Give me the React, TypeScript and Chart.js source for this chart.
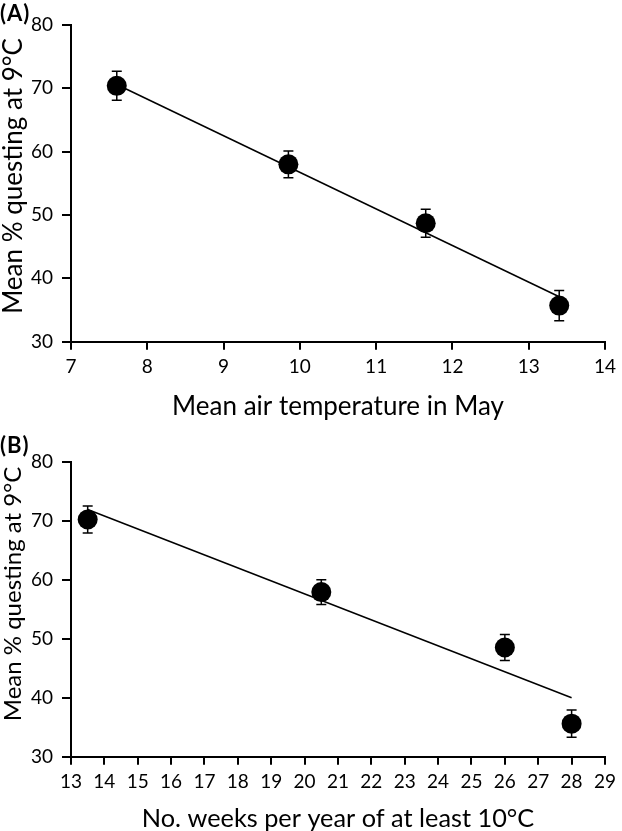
import React, { useEffect, useRef } from "react";
import { Chart, registerables } from "chart.js";

Chart.register(...registerables);

// Panel A: mean air temperature in May
const tempMay = [7.6, 9.85, 11.65, 13.4];
const questA = [70.4, 58.0, 48.7, 35.7];
const errA = [2.3, 2.1, 2.2, 2.4];
const fitAX = [7.6, 13.4];
const fitAY = [70.6, 37.1];

// Panel B: number of weeks per year >= 10 C
const weeks = [13.5, 20.5, 26, 28];
const questB = [70.2, 57.9, 48.5, 35.6];
const errB = [2.3, 2.1, 2.2, 2.3];
const fitBX = [13.5, 28];
const fitBY = [71.9, 40.0];

const yMin = 30;
const yMax = 80;
const yStep = 10;
const yTitleText = "Mean % questing at 9°C";

const FONT = "Lato, 'Open Sans', sans-serif";

const errorBarPlugin = {
  id: "errorBars",
  afterDatasetsDraw(chart: any, _args: any, opts: any) {
    const xs: number[] = opts.xs || [];
    const ys: number[] = opts.ys || [];
    const errs: number[] = opts.errs || [];
    const { ctx } = chart;
    const xScale = chart.scales.x;
    const yScale = chart.scales.y;
    ctx.save();
    ctx.strokeStyle = "#000";
    ctx.lineWidth = 1.5;
    for (let i = 0; i < xs.length; i++) {
      const px = xScale.getPixelForValue(xs[i]);
      const top = yScale.getPixelForValue(ys[i] + errs[i]);
      const bot = yScale.getPixelForValue(ys[i] - errs[i]);
      ctx.beginPath();
      ctx.moveTo(px, top);
      ctx.lineTo(px, bot);
      ctx.moveTo(px - 5, top);
      ctx.lineTo(px + 5, top);
      ctx.moveTo(px - 5, bot);
      ctx.lineTo(px + 5, bot);
      ctx.stroke();
    }
    ctx.restore();
  },
};

const yTitlePlugin = {
  id: "yTitle",
  afterDraw(chart: any, _args: any, opts: any) {
    const { ctx } = chart;
    ctx.save();
    ctx.translate(opts.x, opts.y);
    ctx.rotate(-Math.PI / 2);
    ctx.font = `${opts.size}px ${FONT}`;
    ctx.fillStyle = "#000";
    ctx.textAlign = "center";
    ctx.textBaseline = "middle";
    ctx.fillText(opts.text, 0, 0);
    ctx.restore();
  },
};

type PanelProps = {
  xs: number[];
  ys: number[];
  errs: number[];
  fitX: number[];
  fitY: number[];
  xMin: number;
  xMax: number;
  xTitle: string;
  xTitleSize: number;
  yTitleSize: number;
  yTitleY: number;
  width: number;
  height: number;
  padTop: number;
  padRight: number;
  xAxisHeight: number;
  titlePadBottom: number;
};

function Panel(p: PanelProps) {
  const ref = useRef<HTMLCanvasElement | null>(null);
  useEffect(() => {
    if (!ref.current) return;
    const chart = new Chart(ref.current, {
      type: "scatter",
      data: {
        datasets: [
          {
            type: "scatter",
            data: p.xs.map((x, i) => ({ x, y: p.ys[i] })),
            pointRadius: 10,
            pointHoverRadius: 10,
            backgroundColor: "#000",
            borderColor: "#000",
            borderWidth: 0,
          },
          {
            type: "line",
            data: p.fitX.map((x, i) => ({ x, y: p.fitY[i] })),
            borderColor: "#000",
            borderWidth: 1.5,
            pointRadius: 0,
            fill: false,
            tension: 0,
          } as any,
        ],
      },
      options: {
        animation: false,
        responsive: false,
        devicePixelRatio: 1,
        layout: { padding: { top: p.padTop, right: p.padRight, left: 0, bottom: 0 } },
        plugins: {
          legend: { display: false },
          tooltip: { enabled: false },
          errorBars: { xs: p.xs, ys: p.ys, errs: p.errs },
          yTitle: { text: yTitleText, x: 13.5, y: p.yTitleY, size: p.yTitleSize },
        } as any,
        scales: {
          x: {
            type: "linear",
            min: p.xMin,
            max: p.xMax,
            afterFit: (s: any) => {
              s.height = p.xAxisHeight;
            },
            ticks: {
              stepSize: 1,
              color: "#000",
              font: { family: FONT, size: 19 },
              padding: 6,
              maxRotation: 0,
            },
            grid: {
              display: true,
              drawOnChartArea: false,
              drawTicks: true,
              tickLength: 8,
              color: "#000",
              lineWidth: 2,
            },
            border: { display: true, color: "#000", width: 2 },
            title: {
              display: true,
              text: p.xTitle,
              color: "#000",
              font: { family: FONT, size: p.xTitleSize, lineHeight: 1 },
              padding: { top: 0, bottom: p.titlePadBottom },
            },
          },
          y: {
            type: "linear",
            min: yMin,
            max: yMax,
            afterFit: (s: any) => {
              s.width = 71;
            },
            ticks: {
              stepSize: yStep,
              color: "#000",
              font: { family: FONT, size: 19 },
              padding: 9,
            },
            grid: {
              display: true,
              drawOnChartArea: false,
              drawTicks: true,
              tickLength: 9,
              color: "#000",
              lineWidth: 2,
            },
            border: { display: true, color: "#000", width: 2 },
            title: { display: false },
          },
        },
      },
      plugins: [errorBarPlugin, yTitlePlugin],
    });
    return () => chart.destroy();
  }, []);
  return (
    <canvas
      ref={ref}
      width={p.width}
      height={p.height}
      style={{ display: "block", width: p.width, height: p.height }}
    />
  );
}

const labelStyle: React.CSSProperties = {
  position: "absolute",
  left: 0,
  fontFamily: FONT,
  fontWeight: 700,
  fontSize: 22,
  letterSpacing: "1px",
  lineHeight: "22px",
  color: "#000",
};

export default function App() {
  return (
    <div style={{ position: "absolute", left: 0, top: 0, width: 622, height: 831, background: "#fff" }}>
      <div style={{ position: "absolute", left: 0, top: 0 }}>
        <Panel
          xs={tempMay}
          ys={questA}
          errs={errA}
          fitX={fitAX}
          fitY={fitAY}
          xMin={7}
          xMax={14}
          xTitle="Mean air temperature in May"
          xTitleSize={26}
          yTitleSize={26}
          yTitleY={176}
          width={622}
          height={425}
          padTop={25}
          padRight={14}
          xAxisHeight={83.3}
          titlePadBottom={5}
        />
      </div>
      <div style={{ position: "absolute", left: 0, top: 415 }}>
        <Panel
          xs={weeks}
          ys={questB}
          errs={errB}
          fitX={fitBX}
          fitY={fitBY}
          xMin={13}
          xMax={29}
          xTitle="No. weeks per year of at least 10°C"
          xTitleSize={25.3}
          yTitleSize={24}
          yTitleY={179}
          width={622}
          height={416}
          padTop={46.7}
          padRight={12.7}
          xAxisHeight={74.3}
          titlePadBottom={0}
        />
      </div>
      <div style={{ ...labelStyle, top: 2 }}>(A)</div>
      <div style={{ ...labelStyle, top: 434 }}>(B)</div>
    </div>
  );
}
